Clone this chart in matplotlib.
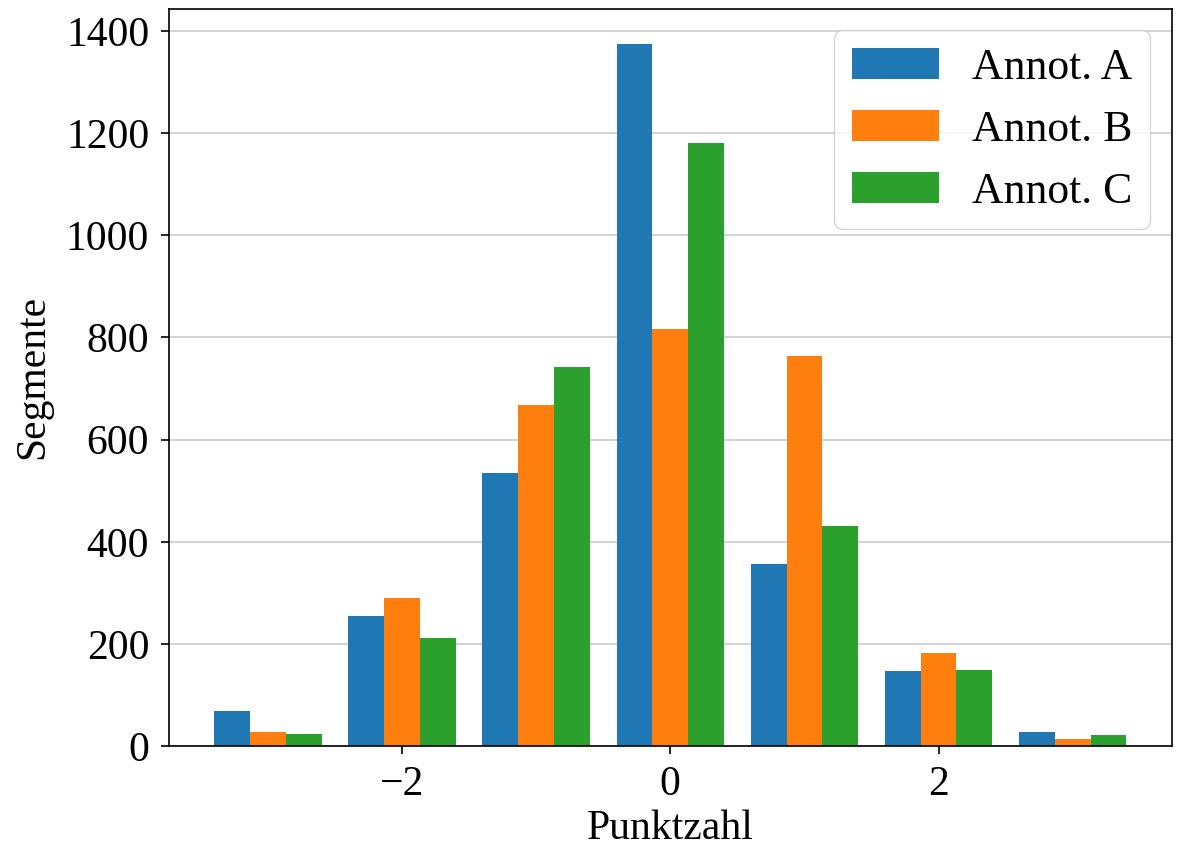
import numpy as np
import matplotlib.pyplot as plt

# Data
scores = [-3, -2, -1, 0, 1, 2, 3]
annot_a = [69, 254, 534, 1375, 356, 147, 28]
annot_b = [28, 291, 667, 817, 763, 182, 14]
annot_c = [24, 211, 743, 1181, 432, 149, 22]
labels = ["Annot. A", "Annot. B", "Annot. C"]

plt.rcParams["font.family"] = ["Liberation Serif", "DejaVu Serif"]
plt.rcParams["font.size"] = 30
plt.rcParams["axes.linewidth"] = 1.2

fig, ax = plt.subplots(figsize=(11.79, 8.5), dpi=100)

x = np.array(scores)
w = 0.8 / 3
for i, (vals, lab) in enumerate(zip([annot_a, annot_b, annot_c], labels)):
    ax.bar(x + (i - 1) * w, vals, width=w, label=lab, zorder=2)

ax.yaxis.grid(True, color="#cccccc", linewidth=1.2, zorder=0)
ax.set_axisbelow(True)
ax.set_xticks([-2, 0, 2])
ax.set_xticklabels(["\u22122", "0", "2"])
ax.tick_params(labelsize=30, length=6, width=1.2, pad=8)

ax.set_xlabel("Punktzahl", fontsize=30, labelpad=4)
ax.set_ylabel("Segmente", fontsize=30, labelpad=10)

ax.legend(loc="upper right", fontsize=31.5, handlelength=2.0, handletextpad=0.75)

fig.subplots_adjust(left=0.143, right=0.994, top=0.99, bottom=0.122)
fig.savefig("out.png")
